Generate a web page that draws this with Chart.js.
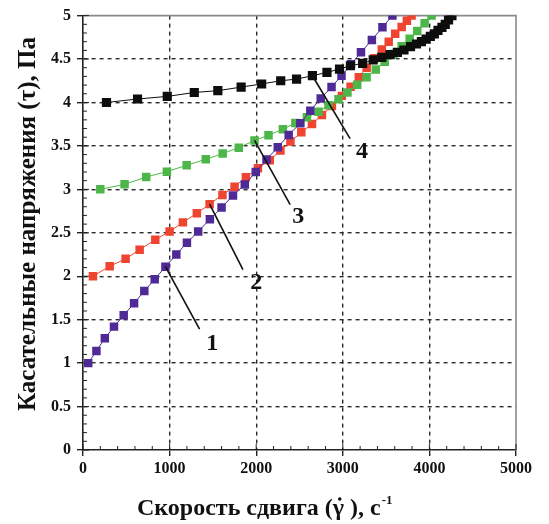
<!DOCTYPE html>
<html lang="ru">
<head>
<meta charset="utf-8">
<title>Кривые течения</title>
<script src="https://cdn.jsdelivr.net/npm/chart.js@4.4.1/dist/chart.umd.min.js"></script>
<style>
  html, body { margin: 0; padding: 0; background: #fff; }
  #flowChart { display: block; }
</style>
</head>
<body>
<canvas id="flowChart" width="549" height="524"></canvas>
<script>
// Кривые течения: касательное напряжение от скорости сдвига, 4 образца

const curveNames = ['1', '2', '3', '4'];

// кривая 1
const rate1 = [60, 155, 252, 358, 470, 590, 708, 828, 952, 1078, 1200, 1330, 1465, 1600, 1732,
  1868, 1995, 2119, 2249, 2375, 2510, 2625, 2745, 2870, 2985, 3095, 3210, 3336, 3458, 3573];
const stress1 = [1.00, 1.14, 1.285, 1.42, 1.55, 1.69, 1.83, 1.965, 2.11, 2.25, 2.385, 2.515, 2.655, 2.79, 2.93,
  3.055, 3.20, 3.344, 3.485, 3.626, 3.762, 3.905, 4.045, 4.178, 4.308, 4.44, 4.577, 4.72, 4.865, 5.0];

// кривая 2
const rate2 = [115, 308, 492, 654, 835, 1000, 1154, 1315, 1462, 1610, 1750, 1881, 2020, 2157, 2280,
  2395, 2521, 2644, 2759, 2874, 2989, 3090, 3185, 3275, 3365, 3450, 3530, 3605, 3680, 3740, 3794];
const stress2 = [2.0, 2.115, 2.20, 2.305, 2.42, 2.515, 2.62, 2.725, 2.83, 2.935, 3.03, 3.14, 3.244, 3.335, 3.447,
  3.55, 3.656, 3.752, 3.855, 3.96, 4.076, 4.18, 4.29, 4.40, 4.51, 4.61, 4.70, 4.79, 4.87, 4.94, 5.0];

// кривая 3
const rate3 = [200, 480, 730, 969, 1197, 1418, 1613, 1799, 1981, 2142, 2308, 2452, 2586, 2720, 2835,
  2950, 3054, 3166, 3275, 3381, 3484, 3584, 3680, 3772, 3860, 3945, 4025];
const stress3 = [3.0, 3.058, 3.142, 3.204, 3.277, 3.346, 3.412, 3.48, 3.563, 3.623, 3.692, 3.763, 3.83, 3.893, 3.969,
  4.038, 4.114, 4.203, 4.291, 4.38, 4.468, 4.557, 4.646, 4.734, 4.823, 4.911, 5.0];

// кривая 4
const rate4 = [271, 630, 973, 1285, 1557, 1826, 2063, 2283, 2466, 2649, 2817, 2962, 3088, 3229, 3351,
  3450, 3546, 3630, 3706, 3782, 3851, 3908, 3962, 4011, 4057, 4099, 4145, 4183, 4221, 4260];
const stress4 = [4.0, 4.04, 4.07, 4.115, 4.136, 4.177, 4.213, 4.25, 4.269, 4.308, 4.346, 4.385, 4.423, 4.45, 4.49,
  4.52, 4.55, 4.577, 4.604, 4.642, 4.673, 4.70, 4.73, 4.76, 4.79, 4.83, 4.865, 4.90, 4.95, 5.0];

// выноски с номерами кривых: точка кривой, конец линии, место цифры
const calloutPoint = [8, 8, 8, 9];
const calloutRate = [1346, 1847, 2392, 3084];
const calloutStress = [1.39, 2.077, 2.825, 3.584];
const numberRate = [1492, 2000, 2486, 3223];
const numberStress = [1.22, 1.93, 2.686, 3.43];

const xTicks = [0, 1000, 2000, 3000, 4000, 5000];

const curves = [
  { rate: rate4, stress: stress4, color: '#0d0d0d', radius: 6.5 },
  { rate: rate1, stress: stress1, color: '#4f2a97', radius: 6 },
  { rate: rate3, stress: stress3, color: '#4cb748', radius: 6 },
  { rate: rate2, stress: stress2, color: '#ef4430', radius: 6 }
];
// порядок кривых в curves: 4, 1, 3, 2 — для выносок нужен номер кривой
const curveIndex = [1, 3, 2, 0];

const serif = '"Liberation Serif", "Times New Roman", serif';

function toPoints(rate, stress) {
  return rate.map((r, i) => ({ x: r, y: stress[i] }));
}

// подпись оси X с точкой над гаммой и степенью -1
function drawRateTitle(ctx, left, base) {
  const parts = ['Скорость сдвига (', 'γ', ' ), с'];
  ctx.font = 'bold 24px ' + serif;
  ctx.textAlign = 'left';
  ctx.textBaseline = 'alphabetic';
  let x = left;
  parts.forEach((p, i) => {
    ctx.fillText(p, x, base);
    const w = ctx.measureText(p).width;
    if (i === 1) {
      ctx.beginPath();
      ctx.arc(x + w * 0.62, base - 16, 1.8, 0, Math.PI * 2);
      ctx.fill();
    }
    x += w;
  });
  ctx.font = 'bold 13px ' + serif;
  ctx.fillText('-1', x + 1, base - 11);
}

// засечки, рамка, подписи осей и выноски
const axisDecor = {
  id: 'axisDecor',
  beforeDatasetsDraw(chart) {
    const { ctx, chartArea: a, scales: { x, y } } = chart;
    ctx.save();
    ctx.strokeStyle = '#8a8a8a';
    ctx.lineWidth = 1.6;
    ctx.beginPath();
    ctx.moveTo(a.left, a.top);
    ctx.lineTo(a.right, a.top);
    ctx.lineTo(a.right, a.bottom);
    ctx.stroke();

    ctx.strokeStyle = '#222';
    ctx.lineWidth = 1;
    ctx.beginPath();
    for (let v = 0; v <= 5000; v += 200) {
      const px = x.getPixelForValue(v);
      ctx.moveTo(px, a.bottom);
      ctx.lineTo(px, a.bottom - (v % 1000 === 0 ? 6 : 4));
    }
    for (let i = 0; i <= 50; i++) {
      const py = y.getPixelForValue(i / 10);
      ctx.moveTo(a.left, py);
      ctx.lineTo(a.left + (i % 5 === 0 ? 6 : 4), py);
    }
    ctx.stroke();

    ctx.fillStyle = '#111';
    drawRateTitle(ctx, 137, 515);

    ctx.translate(29, 224);
    ctx.rotate(-Math.PI / 2);
    ctx.font = 'bold 25px ' + serif;
    ctx.textAlign = 'center';
    ctx.textBaseline = 'middle';
    ctx.fillText('Касательные напряжения (τ), Па', 0, 0);
    ctx.restore();
  },
  afterDatasetsDraw(chart) {
    const { ctx, scales: { x, y } } = chart;
    ctx.save();
    ctx.strokeStyle = '#111';
    ctx.lineWidth = 1.6;
    ctx.fillStyle = '#111';
    ctx.font = 'bold 24px ' + serif;
    ctx.textAlign = 'center';
    ctx.textBaseline = 'middle';
    curveNames.forEach((name, i) => {
      const c = curves[curveIndex[i]];
      const k = calloutPoint[i];
      ctx.beginPath();
      ctx.moveTo(x.getPixelForValue(c.rate[k]), y.getPixelForValue(c.stress[k]));
      ctx.lineTo(x.getPixelForValue(calloutRate[i]), y.getPixelForValue(calloutStress[i]));
      ctx.stroke();
      ctx.fillText(name, x.getPixelForValue(numberRate[i]), y.getPixelForValue(numberStress[i]));
    });
    ctx.restore();
  }
};

const hideEdge = (max) => (ctx) =>
  (ctx.tick && (ctx.tick.value === 0 || ctx.tick.value === max)) ? 'rgba(0,0,0,0)' : '#2a2a2a';

new Chart(document.getElementById('flowChart'), {
  type: 'line',
  data: {
    datasets: curves.map(c => ({
      data: toPoints(c.rate, c.stress),
      borderColor: c.color,
      backgroundColor: c.color,
      borderWidth: 1,
      pointStyle: 'rect',
      pointRadius: c.radius,
      pointBorderWidth: 0,
      tension: 0
    }))
  },
  options: {
    responsive: false,
    animation: false,
    events: [],
    layout: { padding: { left: 0, right: 33, top: 13, bottom: 0 } },
    plugins: { legend: { display: false }, tooltip: { enabled: false } },
    scales: {
      x: {
        type: 'linear',
        min: 0,
        max: 5000,
        afterBuildTicks: (s) => { s.ticks = xTicks.map(v => ({ value: v })); },
        afterFit: (s) => { s.height = 74; },
        grid: { color: hideEdge(5000), lineWidth: 1.4, tickColor: '#222', tickLength: 6 },
        border: { display: true, color: '#222', width: 1.6, dash: [4, 4] },
        ticks: {
          color: '#111', padding: 3, maxRotation: 0,
          font: { family: serif, size: 16, weight: 'bold' },
          callback: (v) => String(v)
        }
      },
      y: {
        min: 0,
        max: 5,
        ticks: {
          stepSize: 0.5, color: '#111', padding: 6,
          font: { family: serif, size: 16, weight: 'bold' },
          callback: (v) => String(v)
        },
        afterFit: (s) => { s.width = 83; },
        grid: { color: hideEdge(5), lineWidth: 1.4, tickColor: '#222', tickLength: 6 },
        border: { display: true, color: '#222', width: 1.6, dash: [4, 4] }
      }
    }
  },
  plugins: [axisDecor]
});
</script>
</body>
</html>
